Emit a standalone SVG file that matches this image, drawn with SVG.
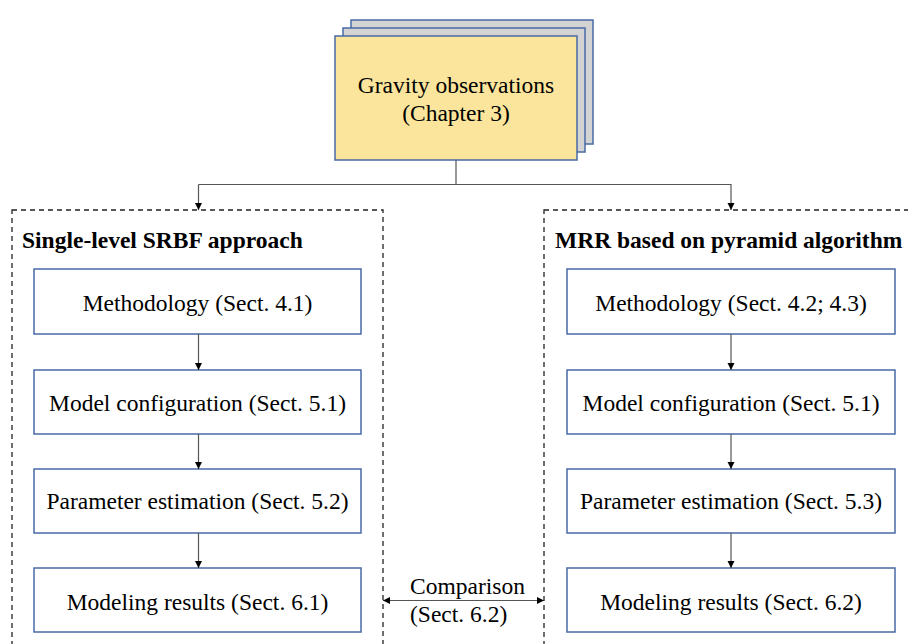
<svg xmlns="http://www.w3.org/2000/svg" width="908" height="644" viewBox="0 0 908 644">
  <defs>
    <marker id="arrow" markerWidth="8" markerHeight="8" refX="7" refY="4" orient="auto" markerUnits="userSpaceOnUse">
      <path d="M0,0.5 L7,4 L0,7.5 Z" fill="#000"/>
    </marker>
    <marker id="arrowStart" markerWidth="8" markerHeight="8" refX="1" refY="4" orient="auto" markerUnits="userSpaceOnUse">
      <path d="M8,0.5 L1,4 L8,7.5 Z" fill="#000"/>
    </marker>
    <style>
      .txt { font-family: "Liberation Serif", "Times New Roman", serif; font-size: 23.5px; fill: #000; text-anchor: middle; }
      .lbl { font-family: "Liberation Serif", "Times New Roman", serif; font-size: 23.5px; fill: #000; }
      .title { font-family: "Liberation Serif", "Times New Roman", serif; font-size: 23.5px; font-weight: bold; fill: #000; }
      .box { fill: #fff; stroke: #4a6aa6; stroke-width: 1.5; }
      .stack { fill: #d3d3d3; stroke: #4a6aa6; stroke-width: 1.5; }
      .main { fill: #fbe59c; stroke: #4a6aa6; stroke-width: 1.5; }
      .group { fill: none; stroke: #222; stroke-width: 1.3; stroke-dasharray: 5 4; }
      .line { fill: none; stroke: #555; stroke-width: 1.2; }
      .arr { fill: none; stroke: #555; stroke-width: 1.2; marker-end: url(#arrow); }
    </style>
  </defs>
  <rect width="908" height="644" fill="#fff"/>

  <!-- group frames -->
  <g id="group-single">
    <rect class="group" x="12" y="210" width="371" height="450"/>
    <text class="title" x="22" y="248">Single-level SRBF approach</text>
  </g>
  <g id="group-mrr">
    <rect class="group" x="544" y="210" width="380" height="450"/>
    <text class="title" x="555" y="248">MRR based on pyramid algorithm</text>
  </g>

  <!-- top node: stacked sheets -->
  <g id="gravity">
    <rect class="stack" x="351" y="20" width="242" height="124"/>
    <rect class="stack" x="343" y="28" width="242" height="124"/>
    <rect class="main" x="335" y="36" width="242" height="124"/>
    <text class="txt" x="456" y="92.5">Gravity observations</text>
    <text class="txt" x="456" y="121">(Chapter 3)</text>
  </g>

  <!-- left column -->
  <g id="l-method">
    <rect class="box" x="34" y="269" width="327" height="65"/>
    <text class="txt" x="197.5" y="311">Methodology (Sect. 4.1)</text>
  </g>
  <g id="l-config">
    <rect class="box" x="34" y="370" width="327" height="64"/>
    <text class="txt" x="197.5" y="410.5">Model configuration (Sect. 5.1)</text>
  </g>
  <g id="l-param">
    <rect class="box" x="34" y="469" width="327" height="64"/>
    <text class="txt" x="197.5" y="509">Parameter estimation (Sect. 5.2)</text>
  </g>
  <g id="l-results">
    <rect class="box" x="34" y="568" width="327" height="64"/>
    <text class="txt" x="197.5" y="610">Modeling results (Sect. 6.1)</text>
  </g>

  <!-- right column -->
  <g id="r-method">
    <rect class="box" x="567" y="269" width="328" height="65"/>
    <text class="txt" x="731" y="311">Methodology (Sect. 4.2; 4.3)</text>
  </g>
  <g id="r-config">
    <rect class="box" x="567" y="370" width="328" height="64"/>
    <text class="txt" x="731" y="410.5">Model configuration (Sect. 5.1)</text>
  </g>
  <g id="r-param">
    <rect class="box" x="567" y="469" width="328" height="64"/>
    <text class="txt" x="731" y="509">Parameter estimation (Sect. 5.3)</text>
  </g>
  <g id="r-results">
    <rect class="box" x="567" y="568" width="328" height="64"/>
    <text class="txt" x="731" y="610">Modeling results (Sect. 6.2)</text>
  </g>

  <!-- connectors -->
  <g id="connectors">
    <path class="line" d="M456,160 V184.5 M198.5,184.5 H731.5"/>
    <path class="arr" d="M198.5,184.5 V210"/>
    <path class="arr" d="M731,184.5 V210"/>
    <path class="arr" d="M198.5,334 V370"/>
    <path class="arr" d="M198.5,434 V469"/>
    <path class="arr" d="M198.5,533 V568"/>
    <path class="arr" d="M731,334 V370"/>
    <path class="arr" d="M731,434 V469"/>
    <path class="arr" d="M731,533 V568"/>
    <path class="arr" d="M383,600.5 H544" style="marker-start:url(#arrowStart)"/>
    <text class="lbl" x="410" y="594">Comparison</text>
    <text class="lbl" x="410" y="622">(Sect. 6.2)</text>
  </g>
</svg>
